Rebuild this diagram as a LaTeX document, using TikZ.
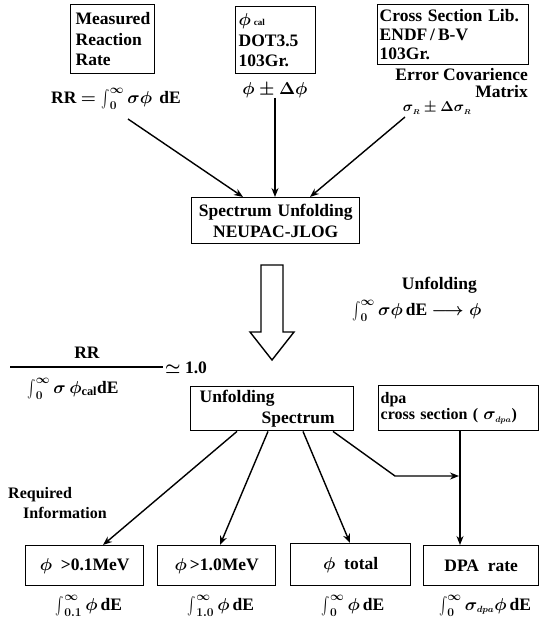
\documentclass[tikz,border=0pt]{standalone}
\usepackage{fontspec}
\usepackage{graphicx}
\setmainfont{Liberation Serif}
\usetikzlibrary{arrows.meta,calc}
% a taller integral sign with limits placed beside it
\newcommand\tallint{\mathop{\vcenter{\hbox{\scalebox{1.25}[1.75]{$\int$}}}}\nolimits}
\begin{document}
\begin{tikzpicture}[x=1pt,y=-1pt,
  every node/.style={font=\fontsize{17.5}{20.5}\selectfont\bfseries\boldmath, inner sep=0pt},
  box/.style={draw, line width=1.4pt, anchor=north west, align=left},
  arr/.style={line width=1.4pt, -{Stealth[length=9pt,width=7pt]}},
  ln/.style={line width=1.4pt}]
\useasboundingbox (0,0) rectangle (540,624);

% --- input data ---
\node[box, minimum width=84pt, minimum height=69pt, text width=74pt, inner xsep=5pt] (mrr) at (70,4)
  {Measured\\Reaction\\Rate};
\node (rrf) at (116,99) {RR $=\tallint_{0}^{\infty}\sigma\phi$\ \,dE};

\node[box, minimum width=80pt, minimum height=67pt, text width=74pt, inner xsep=3pt] (cal) at (235,6)
  {$\phi$\,{\fontsize{9}{10}\selectfont cal}\\DOT3.5\\103Gr.};
\node (pm) at (275,90) {$\phi\pm\Delta\phi$};

\node[box, minimum width=151pt, minimum height=60pt, text width=147pt, inner xsep=2pt, inner ysep=2pt,
  font=\fontsize{17.5}{19}\selectfont\bfseries] (xs) at (377,4)
  {Cross Section Lib.\\ENDF\,/\,B-V\\103Gr.};
\node[anchor=east] (ecv) at (528,75) {Error Covarience};
\node[anchor=east] (mat) at (528,92) {Matrix};
\node (sr) at (437,108) {\fontsize{15}{16}\selectfont$\sigma_{\scriptscriptstyle R}\pm\Delta\sigma_{\scriptscriptstyle R}$};

% --- unfolding code ---
\node[box, minimum width=168pt, minimum height=46pt, align=center, text width=164pt] (su) at (191,197)
  {Spectrum Unfolding\\NEUPAC-JLOG};

\coordinate (a1) at (128,119);
\coordinate (a3) at (405,117);
\draw[arr] (a1) -- ($(su.north west)+(52,0)$);
\draw[arr] (pm.south) -- (pm.south |- su.north);
\draw[arr] (a3) -- ($(su.north west)+(119,0)$);

% hollow block arrow
\draw[line width=1.4pt, line join=miter]
  (261,265) -- (283,265) -- (283,332) -- (294,332) -- (272,360) -- (250,332) -- (261,332) -- cycle;

\node[anchor=east] (unf) at (477,285) {Unfolding};
\node[anchor=west] (unff) at (352,311) {$\tallint_{0}^{\infty}\sigma\phi$\,dE $\longrightarrow\phi$};

% --- ratio check ---
\node (rr) at (87,353) {RR};
\coordinate (fl) at (10,367);
\coordinate (fr) at (163,367);
\draw[ln] (fl) -- (fr);
\node[anchor=west] (one) at (165,368) {$\simeq$ 1.0};
\node (den) at (73,389) {$\tallint_{0}^{\infty}\sigma\,\phi_{\mathrm{cal}}$dE};

% --- results ---
\node[box, minimum width=163pt, minimum height=44pt, text width=145pt, inner xsep=9pt] (us) at (190,386)
  {Unfolding\\\hspace*{62pt}Spectrum};
\node[box, minimum width=160pt, minimum height=45pt, text width=156pt, inner xsep=2pt,
  font=\fontsize{16}{16}\selectfont\bfseries\boldmath] (dpa) at (378,385)
  {dpa\\cross section ( $\sigma_{\scriptscriptstyle dpa}$)};

\node[anchor=west, align=left, font=\fontsize{16}{20}\selectfont\bfseries] (req) at (8,503)
  {Required\\\hspace*{15pt}Information};

\node[box, minimum width=118pt, minimum height=40pt, align=center, text width=114pt] (b1) at (25,545)
  {$\phi$ \,>0.1MeV};
\node[box, minimum width=118pt, minimum height=40pt, align=center, text width=114pt] (b2) at (157,545)
  {$\phi$\,>1.0MeV};
\node[box, minimum width=120pt, minimum height=42pt, align=center, text width=116pt] (b3) at (290,543)
  {$\phi$ \,total};
\node[box, minimum width=115pt, minimum height=40pt, align=center, text width=111pt] (b4) at (423,545)
  {DPA\, rate};

\node (f1) at (89,606) {$\tallint_{0.1}^{\infty}\phi$\,dE};
\node (f2) at (221,606) {$\tallint_{1.0}^{\infty}\phi$\,dE};
\node (f3) at (353,606) {$\tallint_{0}^{\infty}\phi$\,dE};
\node (f4) at (485,606) {$\tallint_{0}^{\infty}\sigma_{\scriptscriptstyle dpa}\phi$\,dE};

\draw[arr] ($(us.south west)+(47,0)$) -- ($(b1.north west)+(78,0)$);
\draw[arr] ($(us.south west)+(78,0)$) -- ($(b2.north west)+(63,0)$);
\draw[arr] ($(us.south west)+(113,0)$) -- ($(b3.north west)+(60,0)$);
\coordinate (jb) at (395,476);
\coordinate (jv) at (459,476);
\draw[arr] ($(us.south west)+(143,0)$) -- (jb) -- (jv);
\coordinate (dv) at ($(dpa.south west)+(82,0)$);
\draw[arr] (dv) -- (dv |- b4.north);
\end{tikzpicture}
\end{document}
